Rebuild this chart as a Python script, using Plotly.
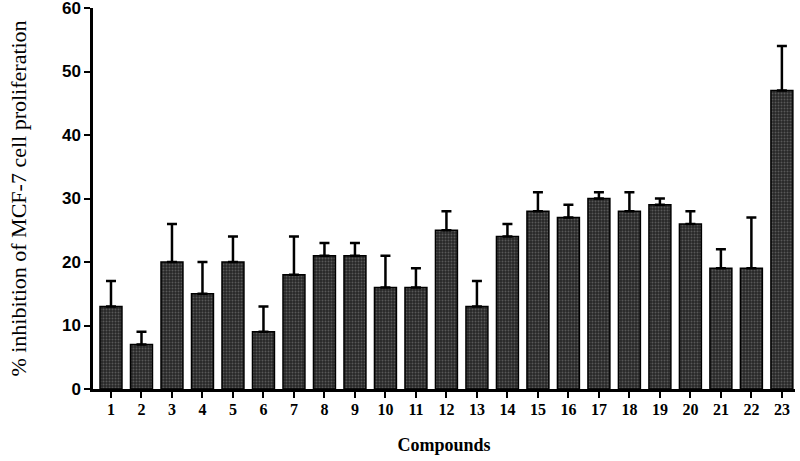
import plotly.graph_objects as go

compounds = [str(i) for i in range(1, 24)]
inhibition = [13, 7, 20, 15, 20, 9, 18, 21, 21, 16, 16, 25, 13, 24, 28, 27, 30, 28, 29, 26, 19, 19, 47]
error_up = [4, 2, 6, 5, 4, 4, 6, 2, 2, 5, 3, 3, 4, 2, 3, 2, 1, 3, 1, 2, 3, 8, 7]
y_ticks = [0, 10, 20, 30, 40, 50, 60]

x_pos = list(range(1, len(compounds) + 1))

fig = go.Figure(go.Bar(
    x=x_pos,
    y=inhibition,
    width=0.72,
    marker=dict(
        color="#262626",
        line=dict(color="black", width=1.5),
        pattern=dict(shape=".", fgcolor="#8a8a8a", size=3, solidity=0.35),
    ),
    error_y=dict(type="data", array=error_up, arrayminus=[0] * len(error_up),
                 symmetric=False, color="black", thickness=2.5, width=5),
))

fig.update_layout(
    width=800, height=461,
    margin=dict(l=93, r=5, t=8, b=72, autoexpand=False),
    plot_bgcolor="white", paper_bgcolor="white",
    showlegend=False,
    xaxis=dict(
        range=[0.41, 23.43],
        tickmode="array", tickvals=x_pos, ticktext=compounds,
        showline=True, linecolor="black", linewidth=2.5,
        ticks="outside", ticklen=6, tickwidth=2, tickcolor="black",
        ticklabelstandoff=-2,
        tickfont=dict(family="Liberation Serif", size=16, color="black", weight="bold"),
        title=dict(text="<b>Compounds</b>", font=dict(family="Liberation Serif", size=18, color="black"), standoff=22),
        showgrid=False, zeroline=False,
    ),
    yaxis=dict(
        range=[0, 60],
        tickmode="array", tickvals=y_ticks,
        showline=True, linecolor="black", linewidth=2.5,
        ticks="outside", ticklen=6, tickwidth=2, tickcolor="black",
        ticklabeloverflow="allow",
        tickfont=dict(family="Liberation Sans", size=17, color="black", weight="bold"),
        title=dict(text="% inhibition of MCF-7 cell proliferation",
                   font=dict(family="Liberation Serif", size=22, color="black"), standoff=30),
        showgrid=False, zeroline=False,
    ),
)

fig.write_html("out.html", config={"displayModeBar": False},
               post_script="document.body.style.margin='0';document.body.style.overflow='hidden';")
